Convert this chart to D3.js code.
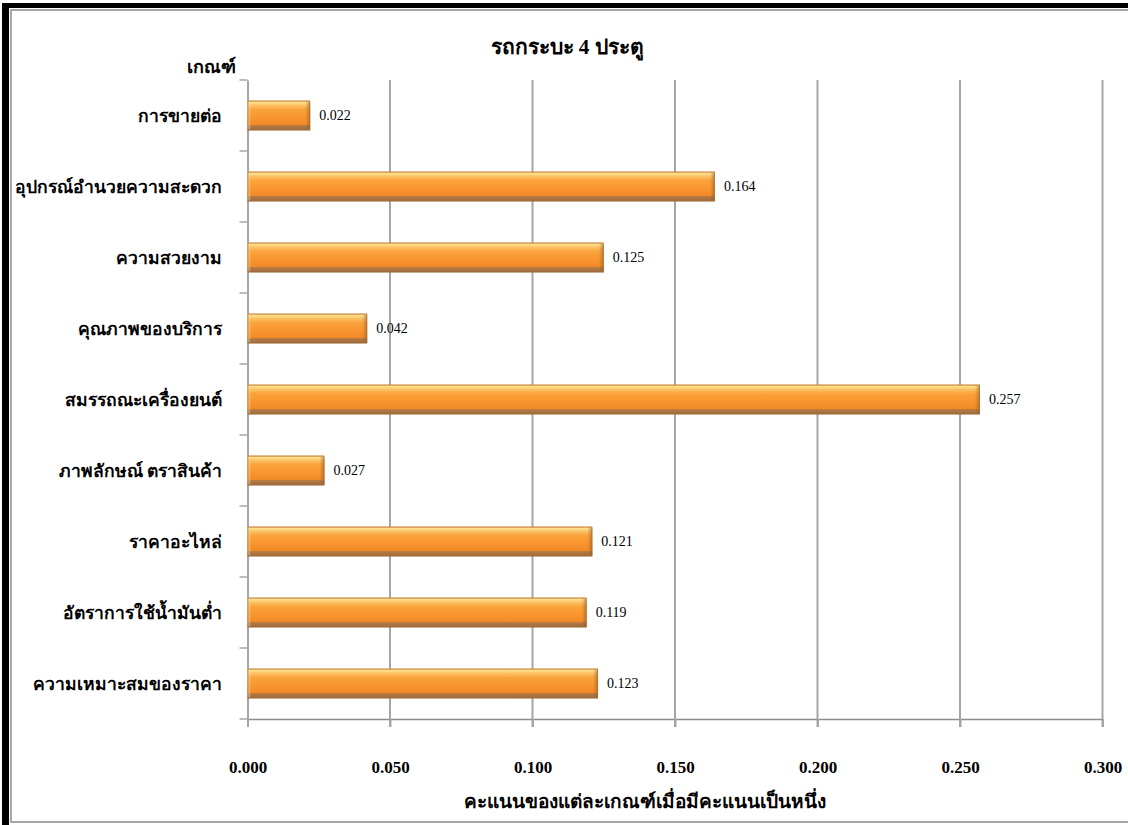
<!DOCTYPE html>
<html>
<head>
<meta charset="utf-8">
<script src="https://cdn.jsdelivr.net/npm/d3@7"></script>
<style>
  html, body { margin: 0; padding: 0; background: #fff; }
  svg { display: block; }
  text { font-family: "Liberation Serif", "Times New Roman", serif; }
</style>
</head>
<body>
<svg id="chart" width="1128" height="825"></svg>
<script>
// Criteria (top to bottom) and their normalised scores
const categories = [
  "การขายต่อ",
  "อุปกรณ์อำนวยความสะดวก",
  "ความสวยงาม",
  "คุณภาพของบริการ",
  "สมรรถณะเครื่องยนต์",
  "ภาพลักษณ์ ตราสินค้า",
  "ราคาอะไหล่",
  "อัตราการใช้น้ำมันต่ำ",
  "ความเหมาะสมของราคา"
];
const scores = [0.022, 0.164, 0.125, 0.042, 0.257, 0.027, 0.121, 0.119, 0.123];
const xTicks = [0.000, 0.050, 0.100, 0.150, 0.200, 0.250, 0.300];

const chartTitle = "รถกระบะ 4 ประตู";
const yAxisTitle = "เกณฑ์";
const xAxisTitle = "คะแนนของแต่ละเกณฑ์เมื่อมีคะแนนเป็นหนึ่ง";

const data = categories.map((c, i) => ({ name: c, value: scores[i] }));

const svg = d3.select("#chart");
const W = 1128, H = 825;
const plot = { left: 247.5, right: 1102.5, top: 80, bottom: 719 };

// Frame: heavy black edge on top/left, thin grey rule inside
svg.append("rect").attr("x", 0).attr("y", 0).attr("width", W).attr("height", H).attr("fill", "#fff");
svg.append("rect").attr("x", 2).attr("y", 3).attr("width", W).attr("height", 5).attr("fill", "#000");
svg.append("rect").attr("x", 2).attr("y", 3).attr("width", 7).attr("height", H).attr("fill", "#000");
svg.append("path")
  .attr("d", `M${W},10 H11 V822 H${W}`)
  .attr("fill", "none").attr("stroke", "#a6a6a6").attr("stroke-width", 2);

const x = d3.scaleLinear().domain([0, 0.3]).range([plot.left, plot.right]);
const y = d3.scaleBand().domain(categories).range([plot.top, plot.bottom]).paddingInner(0.58).paddingOuter(0.29);

// Gradients for the bevelled bars
const defs = svg.append("defs");
const g = defs.append("linearGradient").attr("id", "barFill").attr("x1", 0).attr("y1", 0).attr("x2", 0).attr("y2", 1);
[
  [0, "#f0a24c"], [0.06, "#fde28e"], [0.16, "#fcc064"], [0.3, "#faa33c"],
  [0.55, "#f9962f"], [0.8, "#f28a27"], [0.84, "#b57a42"], [1, "#9c6a40"]
].forEach(([o, c]) => g.append("stop").attr("offset", o).attr("stop-color", c));
const gEnd = defs.append("linearGradient").attr("id", "barEnd").attr("x1", 0).attr("y1", 0).attr("x2", 1).attr("y2", 0);
[[0, "#8a5a2a", 0], [1, "#8a5a2a", 0.55]].forEach(([o, c, a]) =>
  gEnd.append("stop").attr("offset", o).attr("stop-color", c).attr("stop-opacity", a));
const gStart = defs.append("linearGradient").attr("id", "barStart").attr("x1", 0).attr("y1", 0).attr("x2", 1).attr("y2", 0);
[[0, "#ffe6a8", 0.6], [1, "#ffe6a8", 0]].forEach(([o, c, a]) =>
  gStart.append("stop").attr("offset", o).attr("stop-color", c).attr("stop-opacity", a));

// Vertical gridlines with tick stubs below the axis
const grid = svg.append("g");
grid.selectAll("line").data(xTicks.slice(1)).join("line")
  .attr("x1", d => x(d)).attr("x2", d => x(d))
  .attr("y1", plot.top).attr("y2", plot.bottom + 8)
  .attr("stroke", "#a6a6a6").attr("stroke-width", 2);

// Category axis (left)
const yAxis = d3.axisLeft(y).tickSize(0).tickFormat("");
svg.append("g").attr("transform", `translate(${plot.left},0)`).call(yAxis)
  .call(s => s.select(".domain").attr("stroke", "#a6a6a6").attr("stroke-width", 2));
const bounds = d3.range(categories.length + 1).map(i => plot.top + i * (plot.bottom - plot.top) / categories.length);
svg.append("g").selectAll("line").data(bounds).join("line")
  .attr("x1", plot.left - 8).attr("x2", plot.left)
  .attr("y1", d => d).attr("y2", d => d)
  .attr("stroke", "#a6a6a6").attr("stroke-width", 1.5);

// Value axis (bottom)
const xAxis = d3.axisBottom(x).tickValues(xTicks).tickSize(8).tickPadding(34).tickFormat(d3.format(".3f"));
const xg = svg.append("g").attr("transform", `translate(0,${plot.bottom})`).call(xAxis);
xg.select(".domain").attr("stroke", "#8c8c8c").attr("stroke-width", 1.5).attr("d", `M${plot.left},0.5H${plot.right}`);
xg.selectAll(".tick line").attr("stroke", "#a6a6a6").attr("stroke-width", 2);
xg.selectAll(".tick text")
  .attr("font-family", "'Liberation Serif', serif")
  .attr("font-size", 17).attr("font-weight", "bold").attr("fill", "#000");

// Bars
const bars = svg.append("g").selectAll("g").data(data).join("g");
bars.append("rect")
  .attr("x", x(0)).attr("y", d => y(d.name))
  .attr("width", d => x(d.value) - x(0)).attr("height", y.bandwidth())
  .attr("fill", "url(#barFill)");
bars.append("rect")
  .attr("x", d => x(d.value) - 5).attr("y", d => y(d.name) + 1)
  .attr("width", 5).attr("height", y.bandwidth() - 2)
  .attr("fill", "url(#barEnd)");
bars.append("rect")
  .attr("x", x(0)).attr("y", d => y(d.name) + 1)
  .attr("width", 4).attr("height", y.bandwidth() - 2)
  .attr("fill", "url(#barStart)");
bars.append("rect")
  .attr("x", x(0) + 0.5).attr("y", d => y(d.name) + 0.5)
  .attr("width", d => x(d.value) - x(0) - 1).attr("height", y.bandwidth() - 1)
  .attr("fill", "none").attr("stroke", "#a86a30").attr("stroke-width", 1).attr("stroke-opacity", 0.6);

// Value labels
bars.append("text")
  .attr("x", d => x(d.value) + 9)
  .attr("y", d => y(d.name) + y.bandwidth() / 2)
  .attr("dy", "0.35em")
  .attr("font-size", 14).attr("fill", "#000")
  .text(d => d3.format(".3f")(d.value));

// Category labels
svg.append("g").selectAll("text").data(categories).join("text")
  .attr("x", 222)
  .attr("y", d => y(d) + y.bandwidth() / 2)
  .attr("dy", "0.35em")
  .attr("text-anchor", "end")
  .attr("font-size", 17.5).attr("font-weight", "bold").attr("fill", "#000")
  .text(d => d);

// Titles
svg.append("text").attr("x", 567).attr("y", 54).attr("text-anchor", "middle")
  .attr("font-size", 21).attr("font-weight", "bold").text(chartTitle);
svg.append("text").attr("x", 211).attr("y", 73).attr("text-anchor", "middle")
  .attr("font-size", 18).attr("font-weight", "bold").text(yAxisTitle);
svg.append("text").attr("x", 645).attr("y", 808).attr("text-anchor", "middle")
  .attr("font-size", 19).attr("font-weight", "bold").text(xAxisTitle);
</script>
</body>
</html>
